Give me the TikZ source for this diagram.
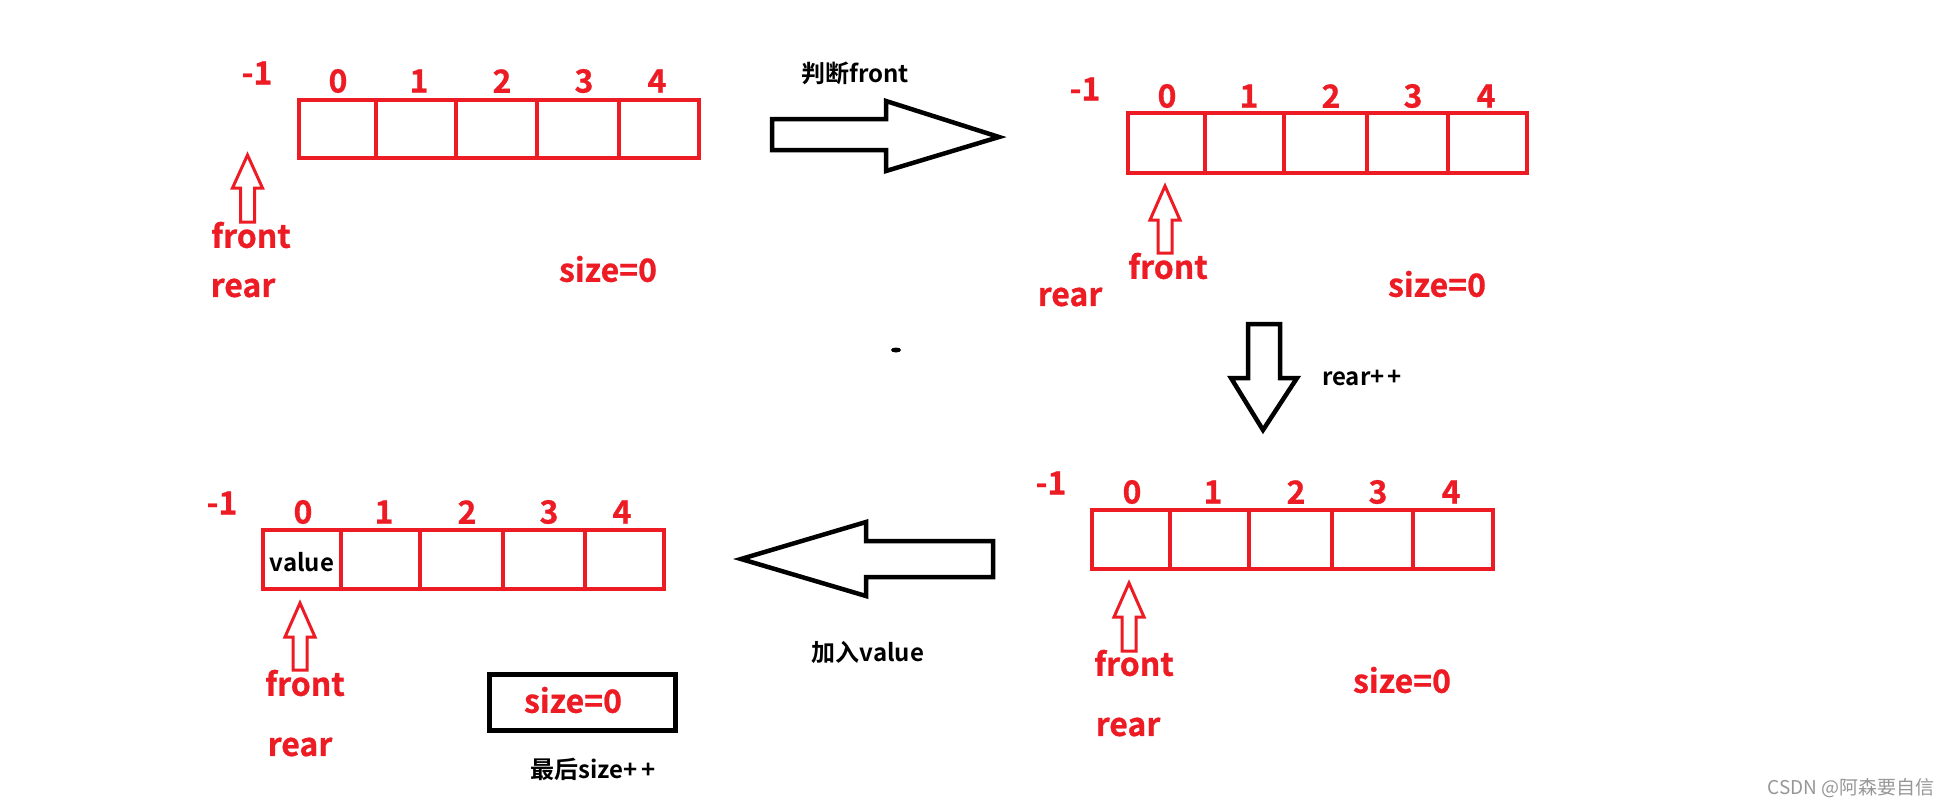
\documentclass[tikz,border=0pt]{standalone}
\usepackage{fontspec}
\newfontfamily\cjkb{Noto Sans CJK SC Bold}
\newfontfamily\cjkbb{Noto Sans CJK SC Bold}[FakeBold=0.8]
\newfontfamily\cjkr{Noto Sans CJK SC}
\definecolor{qred}{RGB}{237,28,36}
\definecolor{wmgray}{RGB}{150,150,150}
\tikzset{
  cellbox/.style={draw=qred, line width=4pt},
  lbl/.style={text=qred, font=\cjkbb\fontsize{32}{32}\selectfont, inner sep=0pt},
  blbl/.style={text=black, font=\cjkb\fontsize{24}{24}\selectfont, inner sep=0pt},
  bigarrow/.style={draw=black, line width=4.5pt, line join=miter},
  redarrow/.style={draw=qred, line width=3pt, line join=miter},
  sizebox/.style={draw=black, line width=5pt},
}
% red pointer arrow: x, tip y, head base y, bottom y
\newcommand{\uparr}[4]{%
  \draw[redarrow] (#1,#2) -- (#1+15,#3) -- (#1+7,#3) -- (#1+7,#4) -- (#1-7,#4) -- (#1-7,#3) -- (#1-15,#3) -- cycle;}
% row of five cells: six x borders, top, bottom
\newcommand{\cellrow}[8]{%
  \draw[cellbox] (#1,#7) rectangle (#2,#8);
  \draw[cellbox] (#2,#7) rectangle (#3,#8);
  \draw[cellbox] (#3,#7) rectangle (#4,#8);
  \draw[cellbox] (#4,#7) rectangle (#5,#8);
  \draw[cellbox] (#5,#7) rectangle (#6,#8);}
\begin{document}
\begin{tikzpicture}[x=1pt,y=-1pt]
\useasboundingbox (0,0) rectangle (1951,806);

% ---------- panel 1 (top left)
\cellrow{299}{376}{456}{537}{619}{699}{99.5}{158}
\node[lbl] (p1m) at (257,73) {-1};
\node[lbl] (p1d0) at (338,81) {0};
\node[lbl] (p1d1) at (419,81) {1};
\node[lbl] (p1d2) at (502,81) {2};
\node[lbl] (p1d3) at (584,81) {3};
\node[lbl] (p1d4) at (657,81) {4};
\uparr{247.5}{155}{188}{222}
\node[lbl] (p1f) at (251,235) {front};
\node[lbl] (p1r) at (243,288) {rear};
\node[lbl] (p1s) at (608,269) {size=0};

% arrow 1
\draw[bigarrow] (772,119) -- (886,119) -- (886,101) -- (999,137) -- (886,171) -- (886,150) -- (772,150) -- cycle;
\node[blbl] (t1) at (855,73) {判断front};

% ---------- panel 2 (top right)
\cellrow{1128}{1205}{1284}{1367}{1448}{1527}{113}{173}
\node[lbl] (p2m) at (1085,89) {-1};
\node[lbl] (p2d0) at (1167,96) {0};
\node[lbl] (p2d1) at (1249,96) {1};
\node[lbl] (p2d2) at (1331,96) {2};
\node[lbl] (p2d3) at (1413,96) {3};
\node[lbl] (p2d4) at (1486,96) {4};
\uparr{1165}{186}{220}{253}
\node[lbl] (p2f) at (1168,266) {front};
\node[lbl] (p2r) at (1070,297) {rear};
\node[lbl] (p2s) at (1437,284) {size=0};

% down arrow
\draw[bigarrow] (1248,324) -- (1280,324) -- (1280,378) -- (1297,378) -- (1263,430) -- (1231,378) -- (1248,378) -- cycle;
\node[blbl] (t2) at (1362,378) {rear+\kern3pt+};

% stray dot
\fill[black] (896,350) ellipse [x radius=5, y radius=2.5];

% ---------- panel 3 (bottom right)
\cellrow{1092}{1170}{1249}{1332}{1413}{1493}{510}{569}
\node[lbl] (p3m) at (1051,483) {-1};
\node[lbl] (p3d0) at (1132,492) {0};
\node[lbl] (p3d1) at (1213,492) {1};
\node[lbl] (p3d2) at (1296,492) {2};
\node[lbl] (p3d3) at (1378,492) {3};
\node[lbl] (p3d4) at (1451,492) {4};
\uparr{1129}{583}{617}{651}
\node[lbl] (p3f) at (1134,663) {front};
\node[lbl] (p3r) at (1128,727) {rear};
\node[lbl] (p3s) at (1402,680) {size=0};

% left arrow
\draw[bigarrow] (993,541) -- (866,541) -- (866,522) -- (741,559) -- (866,596) -- (866,577) -- (993,577) -- cycle;
\node[blbl] (t3) at (868,652) {加入value};

% ---------- panel 4 (bottom left)
\cellrow{263}{341}{420}{503}{585}{664}{530}{589}
\node[lbl] (p4m) at (222,503) {-1};
\node[lbl] (p4d0) at (303,512) {0};
\node[lbl] (p4d1) at (384,512) {1};
\node[lbl] (p4d2) at (467,512) {2};
\node[lbl] (p4d3) at (549,512) {3};
\node[lbl] (p4d4) at (622,512) {4};
\node[blbl] (p4v) at (302,562) {value};
\uparr{300}{603}{637}{670}
\node[lbl] (p4f) at (305,683) {front};
\node[lbl] (p4r) at (300,747) {rear};
\draw[sizebox] (489,674) rectangle (675,730);
\node[lbl] (p4s) at (573,700) {size=0};
\node[blbl] (t4) at (593,769) {最后size+\kern3pt+};

% watermark
\node[text=wmgray, font=\cjkr\fontsize{19}{19}\selectfont, inner sep=0pt] (wm) at (1851,788) {CSDN @阿森要自信};
\end{tikzpicture}
\end{document}
